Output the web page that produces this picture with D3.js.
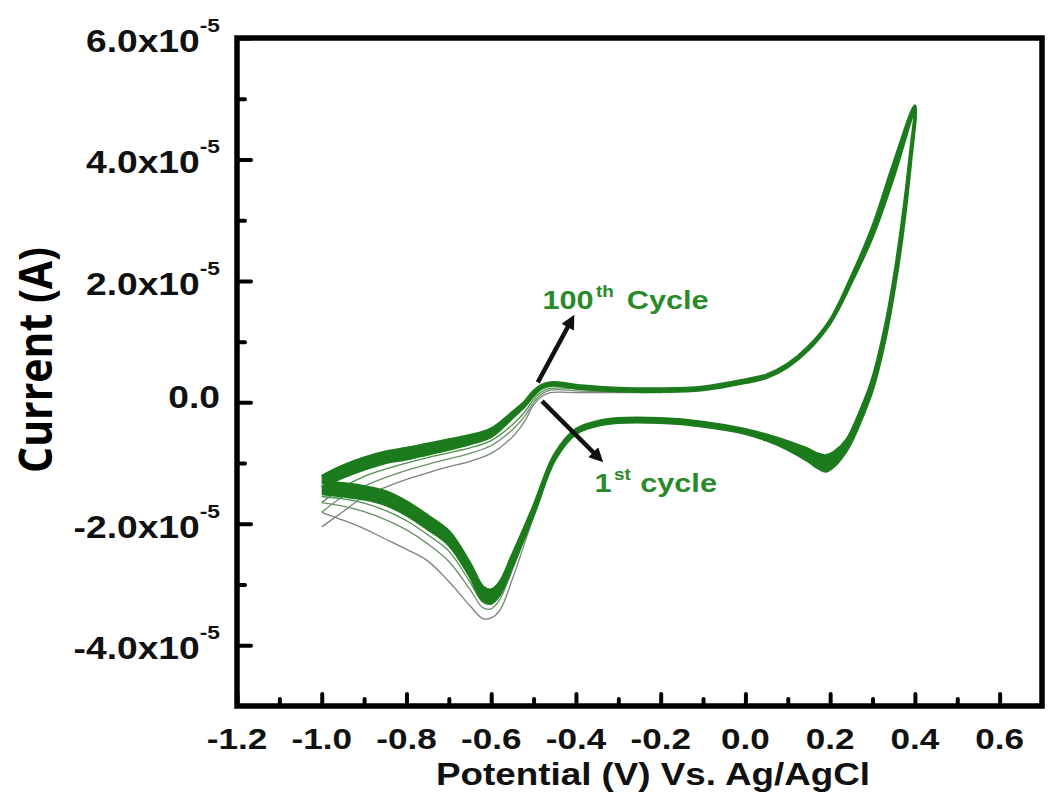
<!DOCTYPE html>
<html>
<head>
<meta charset="utf-8">
<script src="https://cdn.jsdelivr.net/npm/d3@7"></script>
<style>
body{margin:0;background:#fff}
</style>
</head>
<body>
<script>
// potentials (V) of the sweeps: anodic -1.0 -> 0.4, cathodic 0.4 -> -1.0
var potAnodic = [-1.0,-0.95,-0.9,-0.85,-0.8,-0.75,-0.7,-0.65,-0.6,-0.55,-0.52,-0.5,-0.48,-0.46,-0.44,-0.4,-0.35,-0.3,-0.2,-0.1,0.0,0.05,0.1,0.15,0.2,0.25,0.3,0.35,0.4];
var potCathodic = [0.4,0.39,0.37,0.35,0.33,0.3,0.27,0.24,0.21,0.19,0.17,0.15,0.1,0.05,0.0,-0.1,-0.2,-0.3,-0.35,-0.4,-0.45,-0.5,-0.55,-0.58,-0.6,-0.62,-0.65,-0.7,-0.75,-0.8,-0.85,-0.9,-0.95,-1.0];

// current in units of 1e-5 A, the two edges of the thick band of cycles
var cyc100Anodic = [-1.22,-1.05,-0.92,-0.82,-0.76,-0.69,-0.62,-0.55,-0.44,-0.17,0.01,0.18,0.28,0.32,0.32,0.28,0.25,0.23,0.22,0.25,0.37,0.45,0.63,0.92,1.35,2.06,2.88,3.93,4.88];
var cyc100Cathodic = [4.88,4.12,2.95,2.00,1.24,0.38,-0.17,-0.61,-0.82,-0.88,-0.85,-0.78,-0.65,-0.54,-0.45,-0.33,-0.27,-0.27,-0.32,-0.45,-0.86,-1.72,-2.52,-2.97,-3.09,-3.04,-2.66,-2.13,-1.87,-1.64,-1.47,-1.39,-1.34,-1.32];
var cyc10Anodic = [-1.40,-1.23,-1.10,-0.99,-0.93,-0.85,-0.77,-0.68,-0.56,-0.25,-0.05,0.12,0.24,0.28,0.28,0.24,0.21,0.19,0.18,0.21,0.33,0.41,0.59,0.88,1.31,1.98,2.74,3.73,4.82];
var cyc10Cathodic = [4.82,3.98,2.75,1.82,1.06,0.22,-0.33,-0.77,-1.04,-1.13,-1.07,-0.97,-0.77,-0.62,-0.51,-0.39,-0.33,-0.33,-0.38,-0.51,-0.94,-1.84,-2.68,-3.16,-3.30,-3.25,-2.86,-2.34,-2.08,-1.85,-1.68,-1.59,-1.54,-1.50];

// first cycles, only where they come out of the band
var potAnodicEarly = [-1.0,-0.95,-0.9,-0.85,-0.8,-0.75,-0.7,-0.65,-0.6,-0.55,-0.52,-0.5,-0.48,-0.46,-0.44,-0.4,-0.35,-0.3,-0.2,-0.1,0.0];
var potCathodicEarly = [-0.3,-0.35,-0.4,-0.45,-0.5,-0.55,-0.58,-0.6,-0.62,-0.65,-0.7,-0.75,-0.8,-0.85,-0.9,-0.95,-1.0];
var cyc1Anodic = [-2.05,-1.80,-1.55,-1.40,-1.27,-1.16,-1.06,-0.97,-0.84,-0.57,-0.30,-0.04,0.10,0.16,0.17,0.16,0.16,0.16,0.17,0.20,0.32];
var cyc2Anodic = [-1.81,-1.55,-1.38,-1.24,-1.12,-1.02,-0.93,-0.84,-0.71,-0.45,-0.22,0.00,0.14,0.20,0.21,0.19,0.18,0.17,0.17,0.21,0.33];
var cyc3Anodic = [-1.65,-1.40,-1.22,-1.10,-1.00,-0.91,-0.83,-0.75,-0.63,-0.37,-0.15,0.05,0.18,0.23,0.24,0.22,0.20,0.19,0.18,0.21,0.33];
var cyc1Cathodic = [-0.33,-0.38,-0.52,-0.90,-1.88,-2.91,-3.43,-3.55,-3.56,-3.35,-2.95,-2.61,-2.42,-2.25,-2.08,-1.94,-1.81];
var cyc2Cathodic = [-0.33,-0.38,-0.51,-0.92,-1.85,-2.76,-3.25,-3.40,-3.38,-3.08,-2.62,-2.33,-2.10,-1.93,-1.80,-1.71,-1.65];
var cyc3Cathodic = [-0.33,-0.38,-0.50,-0.92,-1.82,-2.70,-3.17,-3.32,-3.29,-2.96,-2.45,-2.18,-1.95,-1.78,-1.66,-1.59,-1.55];

// ticks
var xTicks = [-1.2,-1.0,-0.8,-0.6,-0.4,-0.2,0.0,0.2,0.4,0.6];
var xMinor = [-1.1,-0.9,-0.7,-0.5,-0.3,-0.1,0.1,0.3,0.5];
var yTicks = [-4,-2,0,2,4,6];
var yMinor = [-3,-1,1,3,5];

// annotations [potential, current]
var arrow100 = [[-0.49,0.33],[-0.41,1.36]];
var arrow1 = [[-0.48,0.02],[-0.345,-0.92]];
var label100 = [-0.479,1.53];
var label1 = [-0.356,-1.48];

var W = 1051, H = 800;
var green = "#1c7b1c";

var x = d3.scaleLinear().domain([-1.2,0.7]).range([237,1042]);
var y = d3.scaleLinear().domain([-5,6]).range([706,38]);

var svg = d3.select("body").append("svg").attr("width",W).attr("height",H)
    .style("font-family","'Liberation Sans', Arial, sans-serif").style("font-weight","bold");
svg.append("rect").attr("width",W).attr("height",H).attr("fill","#fff");

var line = d3.line().x(function(d){return x(d[0]);}).y(function(d){return y(d[1]);})
    .curve(d3.curveCatmullRom.alpha(0.5));

function pts(pot, cur){ return pot.map(function(p,i){ return [p, cur[i]]; }); }

// thin early cycles
var early = [
  {a:cyc1Anodic, c:cyc1Cathodic, col:"#7b847b"},
  {a:cyc2Anodic, c:cyc2Cathodic, col:"#6a8f6a"},
  {a:cyc3Anodic, c:cyc3Cathodic, col:"#4a924a"}
];
var gEarly = svg.append("g");
early.forEach(function(e){
  gEarly.append("path").attr("d", line(pts(potAnodicEarly, e.a))).attr("fill","none").attr("stroke",e.col).attr("stroke-width",1.3);
  gEarly.append("path").attr("d", line(pts(potCathodicEarly, e.c))).attr("fill","none").attr("stroke",e.col).attr("stroke-width",1.3);
});

// thick band between cycle 10 and cycle 100
var loop100 = pts(potAnodic, cyc100Anodic).concat(pts(potCathodic, cyc100Cathodic).slice(1));
var loop10 = pts(potAnodic, cyc10Anodic).concat(pts(potCathodic, cyc10Cathodic).slice(1));
svg.append("path").attr("d", line(loop100) + "Z" + line(loop10) + "Z")
    .attr("fill",green).attr("fill-rule","evenodd").attr("stroke","none");
[loop10, loop100].forEach(function(l){
  svg.append("path").attr("d", line(l)).attr("fill","none").attr("stroke",green).attr("stroke-width",3.4);
});

// arrows
svg.append("defs").append("marker").attr("id","head")
    .attr("markerUnits","userSpaceOnUse").attr("viewBox","0 0 10 10")
    .attr("refX",6).attr("refY",5).attr("markerWidth",17).attr("markerHeight",14)
    .attr("orient","auto")
  .append("path").attr("d","M0,0 L10,5 L0,10 Z").attr("fill","#111");
[arrow100, arrow1].forEach(function(a){
  svg.append("line").attr("x1",x(a[0][0])).attr("y1",y(a[0][1]))
      .attr("x2",x(a[1][0])).attr("y2",y(a[1][1]))
      .attr("stroke","#111").attr("stroke-width",4.5).attr("marker-end","url(#head)");
});

// text in the picture is drawn a bit wide, so stretch it
function wideText(px, py, sx){
  return svg.append("g").attr("transform","translate("+px+","+py+") scale("+sx+",1)").append("text");
}
var t100 = wideText(x(label100[0]), y(label100[1]), 1.18).attr("fill","#2a8a2a").attr("font-size",26);
t100.append("tspan").text("100");
t100.append("tspan").attr("font-size",16).attr("dy",-12).attr("dx",2).text("th");
t100.append("tspan").attr("dy",12).attr("dx",11).text("Cycle");
var t1 = wideText(x(label1[0]), y(label1[1]), 1.18).attr("fill","#2a8a2a").attr("font-size",26);
t1.append("tspan").text("1");
t1.append("tspan").attr("font-size",16).attr("dy",-12).attr("dx",2).text("st");
t1.append("tspan").attr("dy",12).attr("dx",8).text("cycle");

// axes: inner ticks
function tickStyle(g){
  g.select(".domain").remove();
  g.selectAll(".tick line").attr("stroke","#000").attr("stroke-width",4).attr("stroke-linecap","round");
  g.selectAll(".tick text").remove();
}
svg.append("g").attr("transform","translate(0,706)")
   .call(d3.axisBottom(x).tickValues(xTicks).tickSize(-12).tickFormat("")).call(tickStyle);
svg.append("g").attr("transform","translate(0,706)")
   .call(d3.axisBottom(x).tickValues(xMinor).tickSize(-7).tickFormat("")).call(tickStyle);
svg.append("g").attr("transform","translate(237,0)")
   .call(d3.axisLeft(y).tickValues(yTicks).tickSize(-14).tickFormat("")).call(tickStyle);
svg.append("g").attr("transform","translate(237,0)")
   .call(d3.axisLeft(y).tickValues(yMinor).tickSize(-8).tickFormat("")).call(tickStyle);

// frame
svg.append("rect").attr("x",237).attr("y",38).attr("width",1042-237).attr("height",706-38)
   .attr("fill","none").attr("stroke","#000").attr("stroke-width",5.5);

// tick labels
xTicks.forEach(function(v){
  wideText(x(v), 749, 1.17).attr("text-anchor","middle").attr("font-size",30).attr("fill","#111").text(v.toFixed(1));
});
yTicks.forEach(function(v){
  var t;
  if (v === 0) {
    t = wideText(220, y(v)+6, 1.2).attr("text-anchor","end").attr("font-size",31).attr("fill","#111");
    t.append("tspan").text("0.0");
  } else {
    t = wideText(220, y(v)+14, 1.2).attr("text-anchor","end").attr("font-size",31).attr("fill","#111");
    t.append("tspan").text(v.toFixed(1)+"x10");
    t.append("tspan").attr("font-size",19).attr("dy",-20).text("-5");
  }
});

// axis titles
wideText(653, 785, 1.15).attr("text-anchor","middle").attr("font-size",32).attr("fill","#111")
   .text("Potential (V) Vs. Ag/AgCl");
svg.append("g").attr("transform","translate(52,360) scale(1.15,1) rotate(-90)")
   .append("text").attr("text-anchor","middle").attr("font-size",41)
   .style("font-family","'Open Sans', sans-serif").attr("font-weight","bold").attr("fill","#000")
   .text("Current (A)");
</script>
</body>
</html>
